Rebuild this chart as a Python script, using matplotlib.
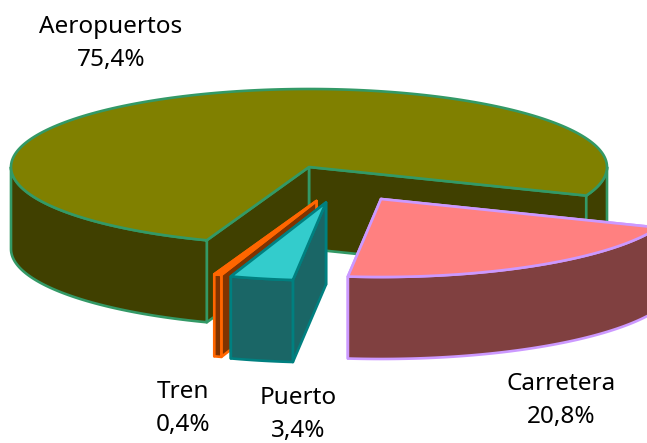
import numpy as np
import matplotlib
matplotlib.use("Agg")
import matplotlib.pyplot as plt
from matplotlib.patches import Polygon

categories = ["Aeropuertos", "Carretera", "Puerto", "Tren"]
shares = [75.4, 20.8, 3.4, 0.4]
share_labels = ["75,4%", "20,8%", "3,4%", "0,4%"]

# colours per slice
top_colors = ["#808000", "#FF8080", "#33CCCC", "#FF6600"]
side_colors = ["#404000", "#804040", "#1A6666", "#803300"]
edge_colors = ["#339966", "#CC99FF", "#008080", "#FF6600"]

# pie projection, in pixels
CENTER = (309, 167)
RX, RY = 298, 78
DEPTH = 82
START = -21.5  # angle where Aeropuertos ends, slices go clockwise from here
offsets = [(0, 0), (72, 32), (17, 35.5), (7.5, 34)]
label_pos = [(111, 43), (561, 400), (298, 415), (183, 409)]

plt.rcParams['font.family'] = ['Noto Sans', 'DejaVu Sans']

fig = plt.figure(figsize=(6.47, 4.43), dpi=100)
ax = fig.add_axes([0, 0, 1, 1])
ax.set_xlim(0, 647)
ax.set_ylim(443, 0)
ax.axis('off')


def arc(cx, cy, a1, a2, n=200):
    t = np.radians(np.linspace(a1, a2, n))
    return np.column_stack([cx + RX * np.cos(t), cy - RY * np.sin(t)])


def shape(pts, face, edge, z):
    ax.add_patch(Polygon(pts, closed=True, facecolor=face, edgecolor=edge,
                         linewidth=1.9, joinstyle='round', zorder=z))


def draw_slice(a_from, a_to, dx, dy, top, side, edge, z):
    cx, cy = CENTER[0] + dx, CENTER[1] + dy
    down = np.array([0, DEPTH])
    apex = np.array([cx, cy])

    # cut faces from the middle to the rim
    for a in (a_from, a_to):
        rim = arc(cx, cy, a, a, 1)[0]
        shape([apex, rim, rim + down, apex + down], side, edge, z)

    # only the front half of the rim has a wall, that is sin(angle) < 0
    for lo, hi in ((-180, 0), (-540, -360)):
        a1, a2 = max(a_from, lo), min(a_to, hi)
        if a1 < a2:
            rim = arc(cx, cy, a1, a2)
            shape(np.vstack([rim, (rim + down)[::-1]]), side, edge, z + 0.1)

    shape(np.vstack([[apex], arc(cx, cy, a_from, a_to)]), top, edge, z + 0.2)


# walk clockwise from the start angle, Aeropuertos takes what is left at the end
angles = [START]
for s in shares[1:]:
    angles.append(angles[-1] - s * 3.6)

draw_slice(angles[-1] - shares[0] * 3.6, angles[-1], *offsets[0],
           top_colors[0], side_colors[0], edge_colors[0], 1)
# Tren first, Puerto sits in front of it, Carretera last
for i in (3, 2, 1):
    draw_slice(angles[i], angles[i - 1], *offsets[i],
               top_colors[i], side_colors[i], edge_colors[i], 2 + (3 - i))

for name, pct, (x, y) in zip(categories, share_labels, label_pos):
    ax.text(x, y, name + "\n" + pct, ha='center', va='center', fontsize=17.5,
            color='black', linespacing=1.5, zorder=10)

fig.savefig("out.png", dpi=100)
